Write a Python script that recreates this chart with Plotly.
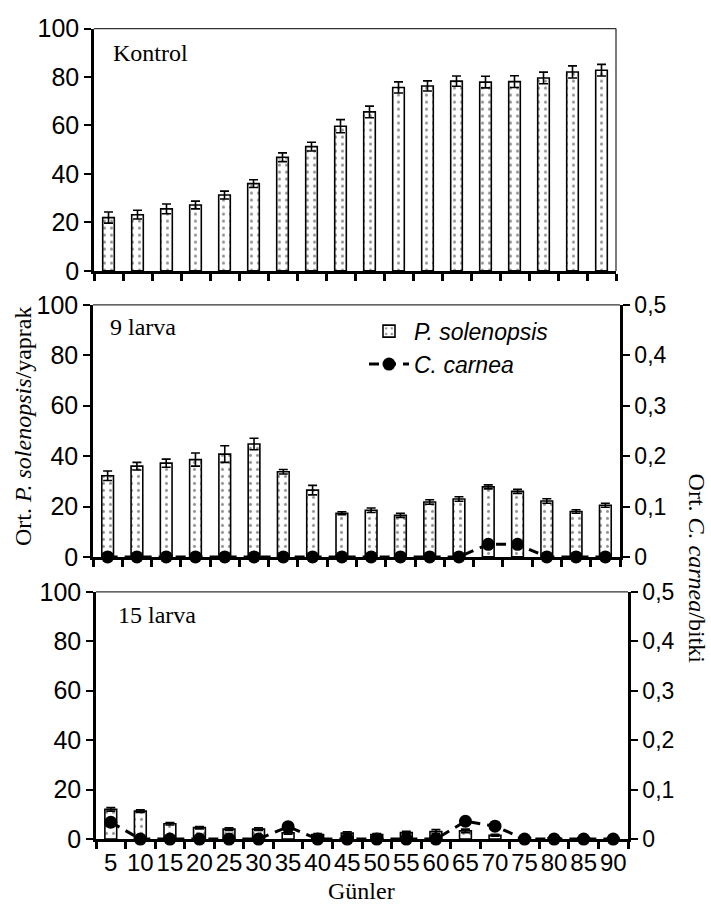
import plotly.graph_objects as go

# ---------------- data ----------------
days = [5, 10, 15, 20, 25, 30, 35, 40, 45, 50, 55, 60, 65, 70, 75, 80, 85, 90]
day_labels = [str(d) for d in days]

kontrol = [22.0, 23.2, 25.6, 27.2, 31.3, 36.0, 46.9, 51.3, 59.7, 65.6, 75.7, 76.3,
           78.3, 77.9, 78.1, 79.6, 82.1, 82.8]
kontrol_err = [2.3, 1.8, 2.0, 1.6, 1.6, 1.6, 1.8, 1.8, 2.7, 2.4, 2.3, 2.1,
               2.1, 2.4, 2.4, 2.4, 2.5, 2.4]

larva9 = [32.2, 36.0, 37.2, 38.6, 40.8, 44.8, 33.8, 26.5, 17.3, 18.5, 16.5, 21.8,
          23.0, 27.8, 26.0, 22.2, 18.0, 20.5]
larva9_err = [1.9, 1.5, 1.6, 2.6, 3.3, 2.3, 0.9, 1.9, 0.6, 0.9, 0.8, 0.9,
              0.9, 0.8, 0.8, 0.9, 0.7, 0.8]
carnea9 = [0, 0, 0, 0, 0, 0, 0, 0, 0, 0, 0, 0, 0, 0.025, 0.025, 0, 0, 0]

larva15 = [12.0, 11.3, 6.2, 4.6, 4.0, 4.0, 2.5, 1.8, 2.4, 1.8, 2.6, 3.0,
           3.3, 1.5, 0.6, 0.5, 0.4, 0.3]
larva15_err = [0.7, 0.5, 0.5, 0.5, 0.5, 0.5, 0.5, 0.4, 0.5, 0.4, 0.5, 0.8,
               0.7, 0.4, 0.2, 0.2, 0.2, 0.2]
carnea15 = [0.034, 0, 0, 0, 0, 0, 0.025, 0, 0, 0, 0, 0, 0.036, 0.026, 0, 0, 0, 0]

left_ticks = [0, 20, 40, 60, 80, 100]
right_ticks = [0, 0.1, 0.2, 0.3, 0.4, 0.5]
right_ticktext = ["0", "0,1", "0,2", "0,3", "0,4", "0,5"]

panel_titles = ["Kontrol", "9 larva", "15 larva"]

# ---------------- figure ----------------
W, H = 711, 918
SERIF = "Liberation Serif"
SANS = "Liberation Sans"
LEFT_TICK = 25
RIGHT_TICK = 23
X_TICK = 24
SERIF_SIZE = 24

def px(v):
    return v / W

def py(v):
    return 1 - v / H

bar_marker = dict(
    color="white",
    line=dict(color="black", width=1.6),
    pattern=dict(shape=".", size=7, solidity=0.15, fgcolor="#222222", bgcolor="white"),
)

def err(arr):
    return dict(type="data", array=arr, visible=True, color="black", thickness=1.6, width=4.5)

line_style = dict(color="black", width=3, dash="10px,7px")
marker_style = dict(color="black", size=13, symbol="circle")

fig = go.Figure()

fig.add_trace(go.Bar(x=day_labels, y=kontrol, error_y=err(kontrol_err), marker=bar_marker,
                     xaxis="x", yaxis="y", showlegend=False, name="P. solenopsis"))
fig.add_trace(go.Bar(x=day_labels, y=larva9, error_y=err(larva9_err), marker=bar_marker,
                     xaxis="x2", yaxis="y2", showlegend=True, name="<i>P. solenopsis</i>"))
fig.add_trace(go.Scatter(x=day_labels, y=carnea9, mode="lines+markers", xaxis="x2", yaxis="y3",
                         line=line_style, marker=marker_style,
                         cliponaxis=False, showlegend=True, name="<i>C. carnea</i>"))
fig.add_trace(go.Bar(x=day_labels, y=larva15, error_y=err(larva15_err), marker=bar_marker,
                     xaxis="x3", yaxis="y4", showlegend=False, name="P. solenopsis"))
fig.add_trace(go.Scatter(x=day_labels, y=carnea15, mode="lines+markers", xaxis="x3", yaxis="y5",
                         line=line_style, marker=marker_style,
                         cliponaxis=False, showlegend=False, name="C. carnea"))

n_cat = len(day_labels)

def xaxis_cfg(domain, anchor, labels):
    return dict(domain=domain, anchor=anchor, type="category", tickson="boundaries",
                range=[-0.5, n_cat - 0.5], tickangle=0,
                showline=True, linecolor="black", linewidth=2.5,
                ticks="outside", ticklen=7, tickwidth=2.5, tickcolor="black",
                showticklabels=labels,
                tickfont=dict(family=SANS, size=X_TICK, color="black"),
                showgrid=False, zeroline=False)

def yaxis_cfg(domain, anchor):
    return dict(domain=domain, anchor=anchor, range=[0, 100], tickvals=left_ticks,
                showline=True, linecolor="black", linewidth=2.5,
                ticks="outside", ticklen=7, tickwidth=2.2, tickcolor="black",
                tickfont=dict(family=SANS, size=LEFT_TICK, color="black"),
                showgrid=False, zeroline=False)

def yaxis_right(over, anchor):
    return dict(overlaying=over, anchor=anchor, side="right", range=[0, 0.5],
                tickvals=right_ticks, ticktext=right_ticktext,
                showline=True, linecolor="black", linewidth=2.5,
                ticks="outside", ticklen=7, tickwidth=2.2, tickcolor="black",
                tickfont=dict(family=SANS, size=RIGHT_TICK, color="black"),
                showgrid=False, zeroline=False)

d1x = [px(94), px(616)]
d1y = [py(265), py(15)]
d2x = [px(93), px(620)]
d2y = [py(560), py(300)]
d3x = [px(96), px(628)]
d3y = [py(851), py(596)]

fig.update_layout(
    width=W, height=H,
    margin=dict(l=0, r=0, t=0, b=0),
    paper_bgcolor="white", plot_bgcolor="white",
    font=dict(family=SANS, size=23, color="black"),
    bargap=0.6,
    xaxis=xaxis_cfg(d1x, "y", False),
    yaxis=yaxis_cfg(d1y, "x"),
    xaxis2=xaxis_cfg(d2x, "y2", False),
    yaxis2=yaxis_cfg(d2y, "x2"),
    yaxis3=yaxis_right("y2", "x2"),
    xaxis3=xaxis_cfg(d3x, "y4", True),
    yaxis4=yaxis_cfg(d3y, "x3"),
    yaxis5=yaxis_right("y4", "x3"),
    legend=dict(x=px(364), y=py(305), xanchor="left", yanchor="top",
                bgcolor="rgba(0,0,0,0)", font=dict(family=SANS, size=23, color="black"),
                itemwidth=40, tracegroupgap=0, traceorder="normal"),
    showlegend=True,
)

# thin top / right borders
shapes = []
for xr, yr in [("x", "y"), ("x2", "y2"), ("x3", "y4")]:
    shapes.append(dict(type="line", xref=xr + " domain", yref=yr + " domain",
                       x0=0, x1=1, y0=1, y1=1, line=dict(color="#333333", width=1.3)))
shapes.append(dict(type="line", xref="x domain", yref="y domain",
                   x0=1, x1=1, y0=0, y1=1, line=dict(color="#333333", width=1.3)))
fig.update_layout(shapes=shapes)

serif_font = dict(family=SERIF, size=SERIF_SIZE, color="black")
ann = []
ann.append(dict(text=panel_titles[0], x=px(111), y=py(40), xref="paper", yref="paper",
                xanchor="left", yanchor="middle", showarrow=False, font=serif_font))
ann.append(dict(text=panel_titles[1], x=px(108), y=py(323), xref="paper", yref="paper",
                xanchor="left", yanchor="middle", showarrow=False, font=serif_font))
ann.append(dict(text=panel_titles[2], x=px(116), y=py(620), xref="paper", yref="paper",
                xanchor="left", yanchor="middle", showarrow=False, font=serif_font))
ann.append(dict(text="Ort. <i>P. solenopsis</i>/yaprak", x=px(23), y=py(425),
                xref="paper", yref="paper", xanchor="center", yanchor="middle",
                textangle=-90, showarrow=False, font=serif_font))
ann.append(dict(text="Ort. <i>C. carnea</i>/bitki", x=px(697), y=py(572),
                xref="paper", yref="paper", xanchor="center", yanchor="middle",
                textangle=90, showarrow=False, font=serif_font))
ann.append(dict(text="Günler", x=px(361), y=py(905), xref="paper", yref="paper",
                xanchor="center", yanchor="middle", showarrow=False, font=serif_font))
fig.update_layout(annotations=ann)

fig.write_html("out.html")
